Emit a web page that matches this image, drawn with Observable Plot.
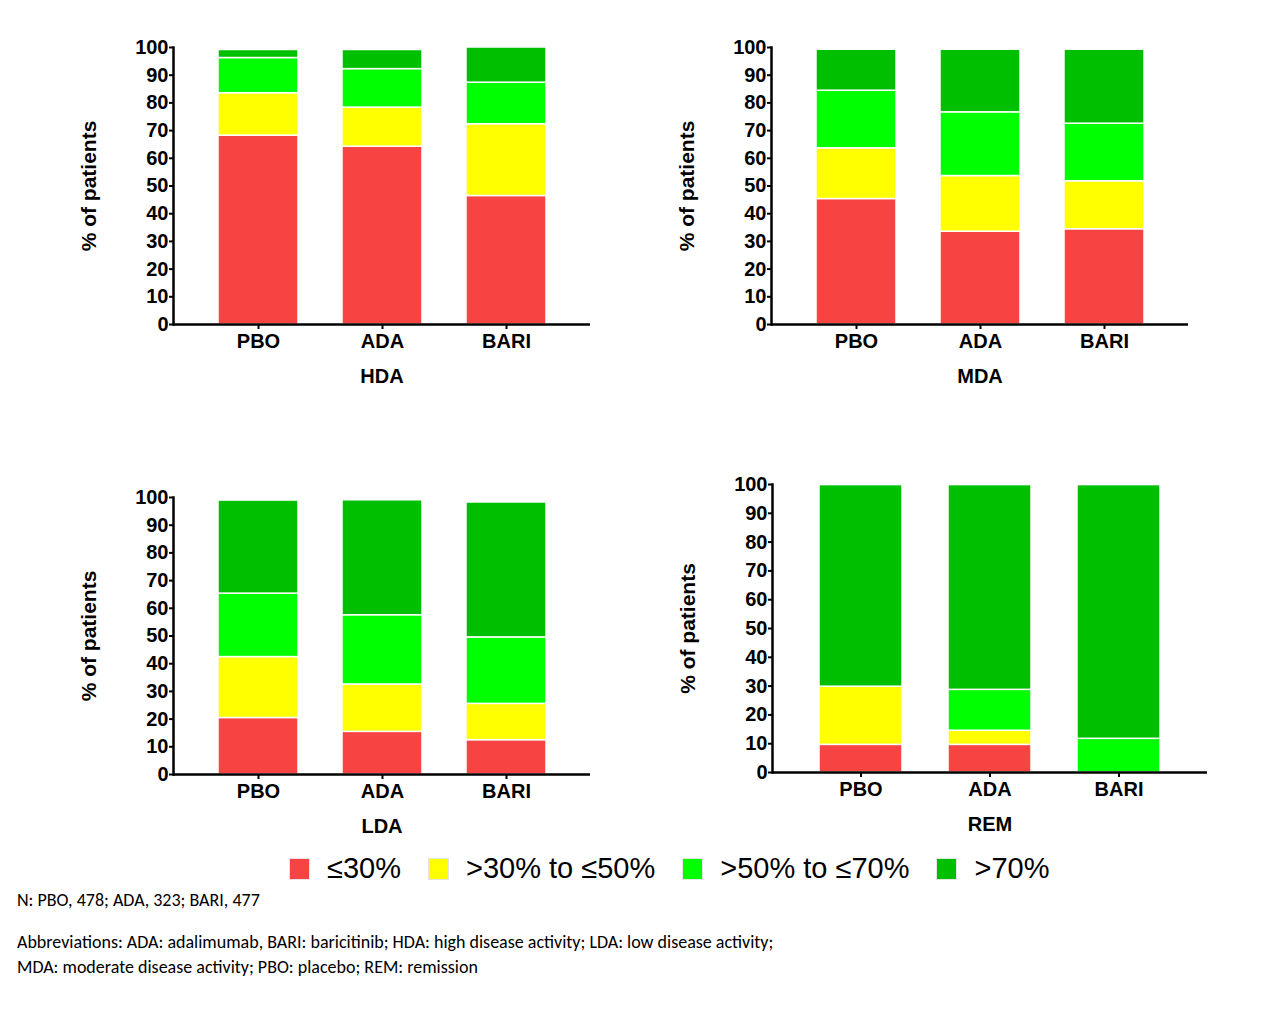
<!DOCTYPE html>
<html>
<head>
<meta charset="utf-8">
<script src="https://cdn.jsdelivr.net/npm/d3@7"></script>
<script src="https://cdn.jsdelivr.net/npm/@observablehq/plot@0.6"></script>
<style>
  body { margin: 0; background: white; }
  #page { position: relative; width: 1280px; height: 1015px; background: white; overflow: hidden; }
  #page svg { position: absolute; background: transparent; }
  #page svg, #page svg text { font-family: "Liberation Sans", Arial, sans-serif !important; font-weight: bold; }
  .legend { position: absolute; left: 289px; top: 852px; display: flex; align-items: center; font-family: "Liberation Sans", Arial, sans-serif; font-size: 29px; color: #000; }
  .legend .item { display: flex; align-items: center; margin-right: 27px; }
  .legend .sw { width: 21px; height: 22px; box-sizing: border-box; border: 1px solid #e4e4e4; margin-right: 17px; }
  .note { position: absolute; left: 17px; font-family: "Carlito", "Liberation Sans", sans-serif; font-size: 18px; line-height: 22px; color: #000; white-space: nowrap; }
</style>
</head>
<body>
<div id="page"></div>
<script>
// ---- data ----
const treatments = ["PBO", "ADA", "BARI"];
const categories = ["≤30%", ">30% to ≤50%", ">50% to ≤70%", ">70%"];
const colors = ["#F84343", "#FFFF00", "#00FF00", "#00BF00"];
const panelTitles = ["HDA", "MDA", "LDA", "REM"];
const yTicks = [0, 10, 20, 30, 40, 50, 60, 70, 80, 90, 100];
// rows: PBO, ADA, BARI; columns follow categories
const hdaValues = [
  [68.2, 15.3, 12.7, 2.9],
  [64.2, 14.1, 13.9, 6.9],
  [46.4, 25.9, 15.0, 12.7]
];
const mdaValues = [
  [45.3, 18.3, 20.8, 14.8],
  [33.5, 20.1, 23.0, 22.6],
  [34.4, 17.3, 20.8, 26.7]
];
const ldaValues = [
  [20.4, 22.0, 22.9, 33.6],
  [15.4, 17.1, 25.0, 41.5],
  [12.4, 13.1, 24.0, 48.7]
];
const remValues = [
  [9.6, 20.2, 0, 70.0],
  [9.6, 4.9, 14.2, 71.1],
  [0, 0, 11.7, 88.1]
];
const footN = "N: PBO, 478; ADA, 323; BARI, 477";
const footAbbr1 = "Abbreviations: ADA: adalimumab, BARI: baricitinib; HDA: high disease activity; LDA: low disease activity;";
const footAbbr2 = "MDA: moderate disease activity; PBO: placebo; REM: remission";

function tidy(values) {
  return values.flatMap((row, i) => row.map((v, j) => ({treatment: treatments[i], category: categories[j], value: v})))
    .filter(d => d.value > 0);
}

const page = document.getElementById("page");

function panel(values, title, layout) {
  const chart = Plot.plot({
    width: layout.width,
    height: layout.height,
    marginLeft: layout.ml,
    marginRight: layout.mr,
    marginTop: layout.mt,
    marginBottom: layout.mb,
    style: {fontSize: "20px", fontWeight: "bold", color: "#000", background: "transparent"},
    x: {domain: treatments, padding: 0.355, label: null},
    y: {domain: [0, 100]},
    color: {domain: categories, range: colors},
    marks: [
      Plot.barY(tidy(values), {x: "treatment", y: "value", fill: "category", stroke: "white", strokeWidth: 1.5}),
      Plot.axisY({ticks: yTicks, tickSize: 4, tickPadding: 1, strokeWidth: 2, label: null, fontSize: 20}),
      Plot.axisY({ticks: [], label: "% of patients", labelArrow: "none", labelAnchor: "center", labelOffset: 92, fontSize: 21}),
      Plot.axisX({tickSize: 5, tickPadding: 4, strokeWidth: 2, label: title, labelArrow: "none", labelAnchor: "center", labelOffset: 58, fontSize: 20}),
      Plot.ruleY([0], {strokeWidth: 2.5}),
      Plot.frame({anchor: "left", strokeWidth: 2.5})
    ]
  });
  chart.style.left = layout.left + "px";
  chart.style.top = layout.top + "px";
  page.appendChild(chart);
}

const stdLayout = {width: 600, height: 400, ml: 173, mr: 10, mt: 47, mb: 76};
panel(hdaValues, panelTitles[0], {...stdLayout, left: 0, top: 0});
panel(mdaValues, panelTitles[1], {...stdLayout, left: 598, top: 0});
panel(ldaValues, panelTitles[2], {...stdLayout, left: 0, top: 450});
panel(remValues, panelTitles[3], {width: 620, height: 400, ml: 174, mr: 11, mt: 47, mb: 65, left: 598, top: 437});

// legend
const legend = document.createElement("div");
legend.className = "legend";
categories.forEach((c, i) => {
  const item = document.createElement("div");
  item.className = "item";
  const sw = document.createElement("div");
  sw.className = "sw";
  sw.style.background = colors[i];
  const t = document.createElement("span");
  t.textContent = c;
  item.appendChild(sw);
  item.appendChild(t);
  legend.appendChild(item);
});
page.appendChild(legend);

// footnotes
[[footN, 889], [footAbbr1, 931], [footAbbr2, 956]].forEach(([txt, top]) => {
  const d = document.createElement("div");
  d.className = "note";
  d.style.top = top + "px";
  d.textContent = txt;
  page.appendChild(d);
});
</script>
</body>
</html>
